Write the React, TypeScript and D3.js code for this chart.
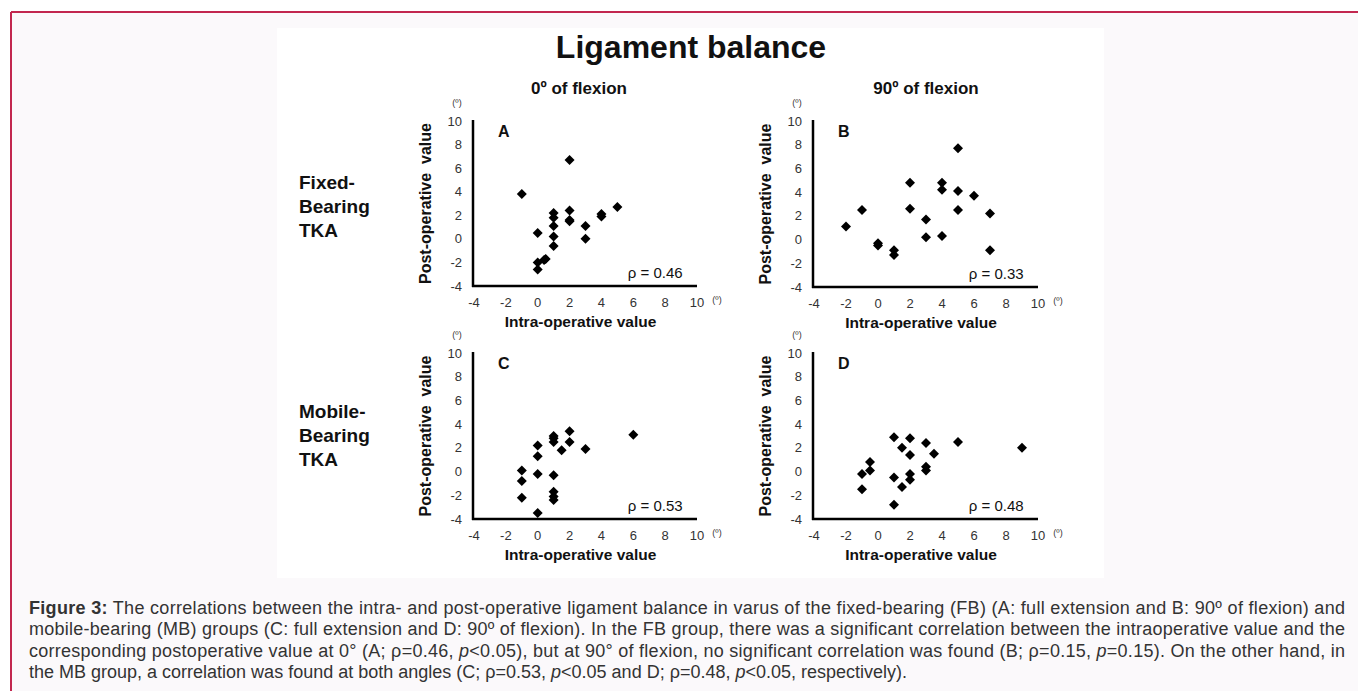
import React from "react";
import * as d3 from "d3";

// tick values shared by every panel (degrees)
const tickValues = [-4, -2, 0, 2, 4, 6, 8, 10];

// A: fixed-bearing, 0º of flexion
const fb0Intra = [-1, 2, 2, 2, 2, 1, 1, 1, 1, 1, 0, 0.5, 0.4, 0, 0, 3, 3, 4, 4, 5];
const fb0Post = [3.8, 6.7, 2.4, 1.6, 1.5, 2.2, 1.8, 1.1, 0.2, -0.6, 0.5, -1.7, -1.8, -2.0, -2.6, 1.1, 0, 2.1, 1.9, 2.7];

// B: fixed-bearing, 90º of flexion
const fb90Intra = [-2, -1, 0, 0, 1, 1, 2, 2, 3, 3, 4, 4, 4, 5, 5, 5, 6, 7, 7];
const fb90Post = [1.1, 2.5, -0.3, -0.5, -0.9, -1.3, 4.8, 2.6, 1.7, 0.2, 4.8, 4.2, 0.3, 7.7, 4.1, 2.5, 3.7, 2.2, -0.9];

// C: mobile-bearing, 0º of flexion
const mb0Intra = [-1, -1, -1, 0, 0, 0, 0, 1, 1, 1, 1, 1, 1, 1, 1.5, 2, 2, 3, 6];
const mb0Post = [0.1, -0.8, -2.2, 2.2, 1.3, -0.2, -3.5, 3.0, 2.8, 2.5, -0.3, -1.7, -2.1, -2.4, 1.8, 3.4, 2.5, 1.9, 3.1];

// D: mobile-bearing, 90º of flexion
const mb90Intra = [-1, -1, -0.5, -0.5, 1, 1, 1, 1.5, 1.5, 2, 2, 2, 2, 3, 3, 3, 3.5, 5, 9];
const mb90Post = [-0.2, -1.5, 0.8, 0.1, 2.9, -0.5, -2.8, 2.0, -1.3, 2.8, 1.4, -0.2, -0.7, 2.4, 0.4, 0.1, 1.5, 2.5, 2.0];

const panelLetters = ["A", "B", "C", "D"];
const rhoLabels = ["ρ = 0.46", "ρ = 0.33", "ρ = 0.53", "ρ = 0.48"];
const columnTitles = ["0º of flexion", "90º of flexion"];
const rowTitles = [["Fixed-", "Bearing", "TKA"], ["Mobile-", "Bearing", "TKA"]];

const captionLines = [
  "The correlations between the intra- and post-operative ligament balance in varus of the fixed-bearing (FB) (A: full extension and B: 90º of flexion) and",
  "mobile-bearing (MB) groups (C: full extension and D: 90º of flexion). In the FB group, there was a significant correlation between the intraoperative value and the",
];

const FONT = "'Liberation Sans', Arial, sans-serif";

// screen box of each plot area
const frames = [
  { x0: 474, x1: 697, top: 121, bottom: 286 },
  { x0: 814, x1: 1038, top: 121, bottom: 287 },
  { x0: 474, x1: 697, top: 353, bottom: 519 },
  { x0: 814, x1: 1038, top: 353, bottom: 519 },
];

const seriesX = [fb0Intra, fb90Intra, mb0Intra, mb90Intra];
const seriesY = [fb0Post, fb90Post, mb0Post, mb90Post];

const diamond = d3.symbol().type(d3.symbolSquare).size(50)();

function Panel({ idx }: { idx: number }) {
  const f = frames[idx];
  const x = d3.scaleLinear().domain([-4, 10]).range([f.x0, f.x1]);
  const y = d3.scaleLinear().domain([-4, 10]).range([f.bottom, f.top]);
  const xs = seriesX[idx];
  const ys = seriesY[idx];
  const axisX = f.x0 - 1;
  const midX = (f.x0 + f.x1) / 2;
  const midY = (f.top + f.bottom) / 2;
  return (
    <g>
      {/* tick labels */}
      {tickValues.map((t) => (
        <text key={"y" + t} x={axisX - 11} y={y(t)} dy="0.35em" textAnchor="end"
          fontSize={13} fill="#333">{t}</text>
      ))}
      {tickValues.map((t) => (
        <text key={"x" + t} x={x(t)} y={f.bottom + 16} dy="0.35em" textAnchor="middle"
          fontSize={13} fill="#333">{t}</text>
      ))}
      <text x={axisX - 16} y={f.top - 18} dy="0.35em" textAnchor="middle" fontSize={9} fill="#333">(º)</text>
      <text x={x(10) + 20} y={f.bottom + 14} dy="0.35em" textAnchor="middle" fontSize={9} fill="#333">(º)</text>

      {/* axes */}
      <line x1={axisX} x2={axisX} y1={f.top - 1} y2={f.bottom + 1} stroke="#000" strokeWidth={2.5} />
      <line x1={axisX - 1} x2={f.x1} y1={f.bottom} y2={f.bottom} stroke="#000" strokeWidth={2.5} />

      {/* axis titles */}
      <text x={midX - 5} y={f.bottom + 41} textAnchor="middle" fontSize={15.5} fontWeight="bold" fill="#111">
        Intra-operative value
      </text>
      <text transform={`translate(${axisX - 48},${midY}) rotate(-90)`} textAnchor="middle" dy="0.35em"
        fontSize={16} fontWeight="bold" fill="#111" style={{ whiteSpace: "pre" }}>
        {"Post-operative  value"}
      </text>

      <text x={axisX + 25} y={f.top + 16} fontSize={16} fontWeight="bold" fill="#111">{panelLetters[idx]}</text>
      <text x={x(9.1)} y={f.bottom - 8} textAnchor="end" fontSize={15} fill="#111">{rhoLabels[idx]}</text>

      {/* points */}
      {xs.map((v, i) => (
        <path key={i} d={diamond} fill="#000"
          transform={`translate(${x(v)},${y(ys[i])}) rotate(45)`} />
      ))}
    </g>
  );
}

export default function App() {
  return (
    <svg width={1358} height={691} style={{ position: "absolute", left: 0, top: 0 }} fontFamily={FONT}>
      <rect x={0} y={0} width={1358} height={691} fill="#fff" />
      <rect x={11} y={12} width={1360} height={700} fill="#fbf9fb" />
      <line x1={11} x2={1358} y1={12} y2={12} stroke="#c2274f" strokeWidth={2} />
      <line x1={11} x2={11} y1={12} y2={691} stroke="#c2274f" strokeWidth={2} />
      <rect x={277} y={28} width={827} height={550} fill="#fff" />

      <text x={691} y={58} textAnchor="middle" fontSize={32} fontWeight="bold" fill="#111">Ligament balance</text>
      <text x={579} y={94} textAnchor="middle" fontSize={17} fontWeight="bold" fill="#111">{columnTitles[0]}</text>
      <text x={926} y={94} textAnchor="middle" fontSize={17} fontWeight="bold" fill="#111">{columnTitles[1]}</text>

      {rowTitles[0].map((s, i) => (
        <text key={"r0" + i} x={299} y={189 + i * 24} fontSize={19} fontWeight="bold" fill="#111">{s}</text>
      ))}
      {rowTitles[1].map((s, i) => (
        <text key={"r1" + i} x={299} y={418 + i * 24} fontSize={19} fontWeight="bold" fill="#111">{s}</text>
      ))}

      {[0, 1, 2, 3].map((i) => <Panel key={i} idx={i} />)}

      <g fontSize={18} fill="#333">
        <text x={29} y={614} textLength={1316} lengthAdjust="spacing">
          <tspan fontWeight="bold">Figure 3:</tspan> {captionLines[0]}
        </text>
        <text x={29} y={635} textLength={1316} lengthAdjust="spacing">{captionLines[1]}</text>
        <text x={29} y={657} textLength={1316} lengthAdjust="spacing">
          corresponding postoperative value at 0° (A; ρ=0.46, <tspan fontStyle="italic">p</tspan>&lt;0.05), but at 90° of flexion, no significant correlation was found (B; ρ=0.15, <tspan fontStyle="italic">p</tspan>=0.15). On the other hand, in
        </text>
        <text x={29} y={678}>
          the MB group, a correlation was found at both angles (C; ρ=0.53, <tspan fontStyle="italic">p</tspan>&lt;0.05 and D; ρ=0.48, <tspan fontStyle="italic">p</tspan>&lt;0.05, respectively).
        </text>
      </g>
    </svg>
  );
}
